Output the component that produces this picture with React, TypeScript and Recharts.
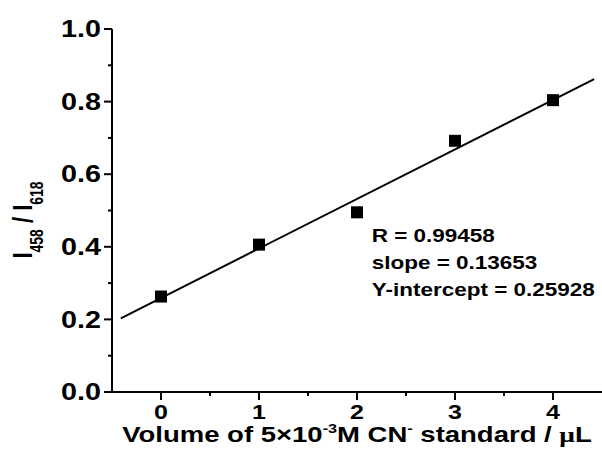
import React from 'react';
import {
  ComposedChart,
  Scatter,
  Line,
  XAxis,
  YAxis,
  ReferenceDot,
} from 'recharts';

const volumes = [0, 1, 2, 3, 4];
const ratios = [0.263, 0.406, 0.495, 0.692, 0.804];

// ends of the fitted line
const fitVolumes = [-0.41, 4.42];
const fitRatios = [0.203, 0.862];

const xTicks = [0, 0.5, 1, 1.5, 2, 2.5, 3, 3.5, 4];
const yTicks = [0, 0.1, 0.2, 0.3, 0.4, 0.5, 0.6, 0.7, 0.8, 0.9, 1.0];

const fitText = ['R = 0.99458', 'slope = 0.13653', 'Y-intercept = 0.25928'];

const points = volumes.map((x, i) => ({ x, y: ratios[i] }));
const fitLine = fitVolumes.map((x, i) => ({ x, y: fitRatios[i] }));

const FONT = 'Liberation Sans, Arial, Helvetica, sans-serif';
// the source picture is stretched sideways
const STRETCH = 1.25;

const isMajor = (v: number, step: number) =>
  Math.abs(v / step - Math.round(v / step)) < 1e-6;

const XTick = (props: any) => {
  const { x, y, payload } = props;
  const major = isMajor(payload.value, 1);
  const axisY = y - 13;
  return (
    <g>
      <rect x={x - 1} y={axisY} width={2} height={major ? 8 : 4} fill="#000" />
      {major ? (
        <text
          transform={`translate(${x},${y}) scale(${STRETCH},1)`}
          dy="0.71em"
          textAnchor="middle"
          fontSize={20}
          fontWeight="bold"
          fontFamily={FONT}
          fill="#000"
        >
          {payload.value}
        </text>
      ) : null}
    </g>
  );
};

const YTick = (props: any) => {
  const { x, y, payload } = props;
  const major = isMajor(payload.value, 0.2);
  const axisX = x + 11;
  const len = major ? 8 : 4;
  return (
    <g>
      <rect x={axisX - len} y={y - 1} width={len} height={2} fill="#000" />
      {major ? (
        <text
          transform={`translate(${x},${y}) scale(${STRETCH},1)`}
          dy="0.355em"
          textAnchor="end"
          fontSize={23}
          fontWeight="bold"
          fontFamily={FONT}
          fill="#000"
        >
          {payload.value.toFixed(1)}
        </text>
      ) : null}
    </g>
  );
};

const XLabel = (props: any) => {
  const { viewBox } = props;
  const cx = viewBox.x + viewBox.width / 2;
  const cy = viewBox.y + 50;
  return (
    <text
      transform={`translate(${cx},${cy}) scale(${STRETCH},1)`}
      textAnchor="middle"
      fontSize={22}
      fontWeight="bold"
      fontFamily={FONT}
      fill="#000"
    >
      Volume of 5×10
      <tspan fontSize={13} dy={-9}>-3</tspan>
      <tspan dy={9}>M CN</tspan>
      <tspan fontSize={13} dy={-9}>-</tspan>
      <tspan dy={9}> standard / </tspan>
      <tspan fontFamily="Liberation Serif, serif">μ</tspan>
      <tspan>L</tspan>
    </text>
  );
};

const YLabel = () => {
  const cx = 32;
  const cy = 220;
  return (
    <text
      transform={`translate(${cx},${cy}) scale(${STRETCH},1) rotate(-90)`}
      textAnchor="middle"
      fontSize={22}
      fontWeight="bold"
      fontFamily={FONT}
      fill="#000"
    >
      I
      <tspan fontSize={14} dy={9}>458</tspan>
      <tspan dy={-9}> / I</tspan>
      <tspan fontSize={14} dy={9}>618</tspan>
    </text>
  );
};

const FitLabel = (props: any) => {
  const { viewBox } = props;
  return (
    <text
      transform={`translate(${viewBox.x},${viewBox.y}) scale(${STRETCH},1)`}
      fontSize={18}
      fontWeight="bold"
      fontFamily={FONT}
      fill="#000"
    >
      {fitText.map((t, i) => (
        <tspan key={t} x={0} dy={i === 0 ? 0 : 27}>{t}</tspan>
      ))}
    </text>
  );
};

const Square = (props: any) => {
  const { cx, cy } = props;
  return <rect x={cx - 6} y={cy - 6} width={12} height={12} fill="#000" />;
};

const App: React.FC = () => {
  return (
    <div style={{ position: 'absolute', left: 0, top: 0, background: '#fff' }}>
      <ComposedChart width={602} height={470} margin={{ top: 29, right: 0, bottom: 0, left: 0 }}>
        <XAxis
          dataKey="x"
          type="number"
          domain={[-0.5, 4.5]}
          ticks={xTicks}
          interval={0}
          height={78}
          tickSize={8}
          tickMargin={5}
          tickLine={false}
          tick={<XTick />}
          axisLine={{ stroke: '#000', strokeWidth: 2 }}
          label={<XLabel />}
        />
        <YAxis
          type="number"
          domain={[0, 1]}
          ticks={yTicks}
          interval={0}
          width={112}
          tickSize={8}
          tickMargin={3}
          tickLine={false}
          tick={<YTick />}
          axisLine={{ stroke: '#000', strokeWidth: 2 }}
          label={<YLabel />}
        />
        <Line
          data={fitLine}
          dataKey="y"
          stroke="#000"
          strokeWidth={2}
          dot={false}
          activeDot={false}
          isAnimationActive={false}
        />
        <Scatter data={points} dataKey="y" shape={<Square />} isAnimationActive={false} />
        <ReferenceDot x={2.15} y={0.413} r={0} fill="none" stroke="none" label={<FitLabel />} />
      </ComposedChart>
    </div>
  );
};

export default App;
